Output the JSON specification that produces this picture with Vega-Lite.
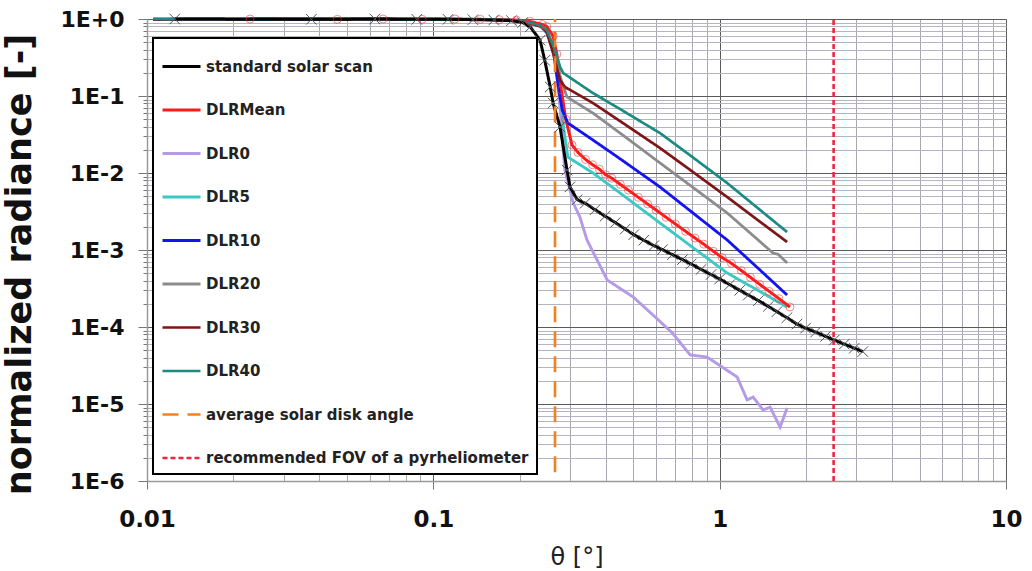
{
  "$schema": "https://vega.github.io/schema/vega-lite/v6.json",
  "width": 859,
  "height": 462,
  "autosize": {"type": "none"},
  "padding": {"left": 147, "top": 19, "right": 26, "bottom": 90},
  "background": "white",
  "config": {
    "view": {"stroke": null},
    "font": "DejaVu Sans",
    "legend": {
      "orient": "none",
      "legendX": 6,
      "legendY": 19,
      "direction": "vertical",
      "symbolType": "stroke",
      "symbolSize": 1444,
      "symbolStrokeWidth": 3,
      "labelFont": "DejaVu Sans",
      "labelFontWeight": "bold",
      "labelFontSize": 15,
      "labelColor": "#222222",
      "labelLimit": 400,
      "labelOffset": 4,
      "rowPadding": 14.5,
      "padding": 8,
      "strokeColor": "#000000",
      "strokeWidth": 2,
      "fillColor": "#ffffff"
    }
  },
  "data": {
    "values": [
      {"s": "DLR0", "x": 0.0105, "y": 0.99}, {"s": "DLR0", "x": 0.025, "y": 1.0}, {"s": "DLR0", "x": 0.05, "y": 0.99}, {"s": "DLR0", "x": 0.08, "y": 1.0}, {"s": "DLR0", "x": 0.12, "y": 0.99}, {"s": "DLR0", "x": 0.16, "y": 0.98}, {"s": "DLR0", "x": 0.19, "y": 0.96}, {"s": "DLR0", "x": 0.205, "y": 0.93}, {"s": "DLR0", "x": 0.218, "y": 0.88},
      {"s": "DLR0", "x": 0.238, "y": 0.8}, {"s": "DLR0", "x": 0.249, "y": 0.66}, {"s": "DLR0", "x": 0.262, "y": 0.42}, {"s": "DLR0", "x": 0.27, "y": 0.2}, {"s": "DLR0", "x": 0.278, "y": 0.06}, {"s": "DLR0", "x": 0.284, "y": 0.02}, {"s": "DLR0", "x": 0.288, "y": 0.0109}, {"s": "DLR0", "x": 0.308, "y": 0.00408}, {"s": "DLR0", "x": 0.325, "y": 0.00268}, {"s": "DLR0", "x": 0.344, "y": 0.00135}, {"s": "DLR0", "x": 0.405, "y": 0.000407}, {"s": "DLR0", "x": 0.499, "y": 0.000245}, {"s": "DLR0", "x": 0.595, "y": 0.000135}, {"s": "DLR0", "x": 0.683, "y": 0.000084}, {"s": "DLR0", "x": 0.789, "y": 0.0000433}, {"s": "DLR0", "x": 0.904, "y": 0.0000407}, {"s": "DLR0", "x": 1.151, "y": 0.0000224}, {"s": "DLR0", "x": 1.247, "y": 0.0000113}, {"s": "DLR0", "x": 1.309, "y": 0.0000123}, {"s": "DLR0", "x": 1.418, "y": 0.00000836}, {"s": "DLR0", "x": 1.5, "y": 0.0000091}, {"s": "DLR0", "x": 1.626, "y": 0.000005}, {"s": "DLR0", "x": 1.72, "y": 0.0000089},

      {"s": "DLR5", "x": 0.0105, "y": 1.0}, {"s": "DLR5", "x": 0.025, "y": 0.99}, {"s": "DLR5", "x": 0.05, "y": 1.0}, {"s": "DLR5", "x": 0.08, "y": 0.99}, {"s": "DLR5", "x": 0.12, "y": 1.0}, {"s": "DLR5", "x": 0.16, "y": 0.98}, {"s": "DLR5", "x": 0.19, "y": 0.96}, {"s": "DLR5", "x": 0.205, "y": 0.93}, {"s": "DLR5", "x": 0.218, "y": 0.89},
      {"s": "DLR5", "x": 0.238, "y": 0.8}, {"s": "DLR5", "x": 0.249, "y": 0.67}, {"s": "DLR5", "x": 0.262, "y": 0.45}, {"s": "DLR5", "x": 0.27, "y": 0.25}, {"s": "DLR5", "x": 0.278, "y": 0.1}, {"s": "DLR5", "x": 0.286, "y": 0.035}, {"s": "DLR5", "x": 0.295, "y": 0.0161}, {"s": "DLR5", "x": 0.32, "y": 0.0133}, {"s": "DLR5", "x": 0.361, "y": 0.01}, {"s": "DLR5", "x": 0.45, "y": 0.00546}, {"s": "DLR5", "x": 0.619, "y": 0.00224}, {"s": "DLR5", "x": 0.8, "y": 0.0011}, {"s": "DLR5", "x": 1.062, "y": 0.000503}, {"s": "DLR5", "x": 1.35, "y": 0.000304}, {"s": "DLR5", "x": 1.72, "y": 0.000182},

      {"s": "DLRMean", "x": 0.0229, "y": 1.0}, {"s": "DLRMean", "x": 0.0462, "y": 0.99}, {"s": "DLRMean", "x": 0.0667, "y": 1.0}, {"s": "DLRMean", "x": 0.0914, "y": 0.99}, {"s": "DLRMean", "x": 0.119, "y": 1.0}, {"s": "DLRMean", "x": 0.146, "y": 0.99}, {"s": "DLRMean", "x": 0.17, "y": 0.98}, {"s": "DLRMean", "x": 0.195, "y": 0.97}, {"s": "DLRMean", "x": 0.218, "y": 0.93}, {"s": "DLRMean", "x": 0.24, "y": 0.85}, {"s": "DLRMean", "x": 0.249, "y": 0.8}, {"s": "DLRMean", "x": 0.262, "y": 0.6}, {"s": "DLRMean", "x": 0.27, "y": 0.35}, {"s": "DLRMean", "x": 0.28, "y": 0.12}, {"s": "DLRMean", "x": 0.29, "y": 0.05}, {"s": "DLRMean", "x": 0.305, "y": 0.0231}, {"s": "DLRMean", "x": 0.32, "y": 0.0185}, {"s": "DLRMean", "x": 0.34, "y": 0.015}, {"s": "DLRMean", "x": 0.36, "y": 0.0128}, {"s": "DLRMean", "x": 0.38, "y": 0.0112}, {"s": "DLRMean", "x": 0.4, "y": 0.0095}, {"s": "DLRMean", "x": 0.42, "y": 0.00855}, {"s": "DLRMean", "x": 0.45, "y": 0.00711}, {"s": "DLRMean", "x": 0.48, "y": 0.00598}, {"s": "DLRMean", "x": 0.52, "y": 0.00483}, {"s": "DLRMean", "x": 0.56, "y": 0.00396}, {"s": "DLRMean", "x": 0.6, "y": 0.0033}, {"s": "DLRMean", "x": 0.65, "y": 0.00266}, {"s": "DLRMean", "x": 0.7, "y": 0.00218}, {"s": "DLRMean", "x": 0.76, "y": 0.00175}, {"s": "DLRMean", "x": 0.82, "y": 0.00143}, {"s": "DLRMean", "x": 0.88, "y": 0.00119}, {"s": "DLRMean", "x": 0.95, "y": 0.000964}, {"s": "DLRMean", "x": 1.02, "y": 0.000798}, {"s": "DLRMean", "x": 1.1, "y": 0.00067}, {"s": "DLRMean", "x": 1.19, "y": 0.000541}, {"s": "DLRMean", "x": 1.28, "y": 0.000442}, {"s": "DLRMean", "x": 1.38, "y": 0.000358}, {"s": "DLRMean", "x": 1.49, "y": 0.00029}, {"s": "DLRMean", "x": 1.61, "y": 0.000234}, {"s": "DLRMean", "x": 1.76, "y": 0.000182},

      {"s": "DLR10", "x": 0.0105, "y": 0.99}, {"s": "DLR10", "x": 0.025, "y": 1.0}, {"s": "DLR10", "x": 0.05, "y": 1.0}, {"s": "DLR10", "x": 0.08, "y": 0.99}, {"s": "DLR10", "x": 0.12, "y": 0.99}, {"s": "DLR10", "x": 0.16, "y": 0.98}, {"s": "DLR10", "x": 0.19, "y": 0.96}, {"s": "DLR10", "x": 0.205, "y": 0.93}, {"s": "DLR10", "x": 0.218, "y": 0.88},
      {"s": "DLR10", "x": 0.238, "y": 0.8}, {"s": "DLR10", "x": 0.249, "y": 0.67}, {"s": "DLR10", "x": 0.262, "y": 0.42}, {"s": "DLR10", "x": 0.273, "y": 0.131}, {"s": "DLR10", "x": 0.282, "y": 0.0658}, {"s": "DLR10", "x": 0.295, "y": 0.0446}, {"s": "DLR10", "x": 0.361, "y": 0.0268}, {"s": "DLR10", "x": 0.45, "y": 0.0152}, {"s": "DLR10", "x": 0.619, "y": 0.00658}, {"s": "DLR10", "x": 0.8, "y": 0.0031}, {"s": "DLR10", "x": 1.062, "y": 0.00135}, {"s": "DLR10", "x": 1.35, "y": 0.000597}, {"s": "DLR10", "x": 1.72, "y": 0.00026},

      {"s": "DLR20", "x": 0.0105, "y": 1.0}, {"s": "DLR20", "x": 0.025, "y": 0.99}, {"s": "DLR20", "x": 0.05, "y": 0.99}, {"s": "DLR20", "x": 0.08, "y": 1.0}, {"s": "DLR20", "x": 0.12, "y": 0.99}, {"s": "DLR20", "x": 0.16, "y": 0.98}, {"s": "DLR20", "x": 0.19, "y": 0.96}, {"s": "DLR20", "x": 0.205, "y": 0.93}, {"s": "DLR20", "x": 0.218, "y": 0.88},
      {"s": "DLR20", "x": 0.238, "y": 0.8}, {"s": "DLR20", "x": 0.249, "y": 0.67}, {"s": "DLR20", "x": 0.262, "y": 0.42}, {"s": "DLR20", "x": 0.275, "y": 0.2}, {"s": "DLR20", "x": 0.285, "y": 0.13}, {"s": "DLR20", "x": 0.293, "y": 0.097}, {"s": "DLR20", "x": 0.361, "y": 0.06}, {"s": "DLR20", "x": 0.45, "y": 0.0328}, {"s": "DLR20", "x": 0.619, "y": 0.0135}, {"s": "DLR20", "x": 0.8, "y": 0.00665}, {"s": "DLR20", "x": 1.062, "y": 0.00303}, {"s": "DLR20", "x": 1.35, "y": 0.00139}, {"s": "DLR20", "x": 1.535, "y": 0.000914}, {"s": "DLR20", "x": 1.6, "y": 0.00088}, {"s": "DLR20", "x": 1.72, "y": 0.00068},

      {"s": "DLR30", "x": 0.0105, "y": 0.99}, {"s": "DLR30", "x": 0.025, "y": 1.0}, {"s": "DLR30", "x": 0.05, "y": 0.99}, {"s": "DLR30", "x": 0.08, "y": 1.0}, {"s": "DLR30", "x": 0.12, "y": 0.99}, {"s": "DLR30", "x": 0.16, "y": 0.98}, {"s": "DLR30", "x": 0.19, "y": 0.96}, {"s": "DLR30", "x": 0.205, "y": 0.92}, {"s": "DLR30", "x": 0.218, "y": 0.88},
      {"s": "DLR30", "x": 0.238, "y": 0.8}, {"s": "DLR30", "x": 0.249, "y": 0.68}, {"s": "DLR30", "x": 0.262, "y": 0.36}, {"s": "DLR30", "x": 0.277, "y": 0.161}, {"s": "DLR30", "x": 0.288, "y": 0.131}, {"s": "DLR30", "x": 0.361, "y": 0.081}, {"s": "DLR30", "x": 0.45, "y": 0.0469}, {"s": "DLR30", "x": 0.619, "y": 0.0211}, {"s": "DLR30", "x": 0.8, "y": 0.01055}, {"s": "DLR30", "x": 1.062, "y": 0.00488}, {"s": "DLR30", "x": 1.35, "y": 0.00249}, {"s": "DLR30", "x": 1.72, "y": 0.00127},

      {"s": "DLR40", "x": 0.0105, "y": 1.0}, {"s": "DLR40", "x": 0.025, "y": 0.99}, {"s": "DLR40", "x": 0.05, "y": 1.0}, {"s": "DLR40", "x": 0.08, "y": 0.99}, {"s": "DLR40", "x": 0.12, "y": 0.99}, {"s": "DLR40", "x": 0.16, "y": 0.98}, {"s": "DLR40", "x": 0.19, "y": 0.96}, {"s": "DLR40", "x": 0.205, "y": 0.93}, {"s": "DLR40", "x": 0.218, "y": 0.89},
      {"s": "DLR40", "x": 0.238, "y": 0.82}, {"s": "DLR40", "x": 0.249, "y": 0.72}, {"s": "DLR40", "x": 0.266, "y": 0.4}, {"s": "DLR40", "x": 0.277, "y": 0.24}, {"s": "DLR40", "x": 0.284, "y": 0.199}, {"s": "DLR40", "x": 0.361, "y": 0.109}, {"s": "DLR40", "x": 0.45, "y": 0.0673}, {"s": "DLR40", "x": 0.619, "y": 0.033}, {"s": "DLR40", "x": 0.8, "y": 0.0163}, {"s": "DLR40", "x": 1.062, "y": 0.00741}, {"s": "DLR40", "x": 1.35, "y": 0.00357}, {"s": "DLR40", "x": 1.72, "y": 0.00171},

      {"s": "standard solar scan", "x": 0.0125, "y": 1.0}, {"s": "standard solar scan", "x": 0.0375, "y": 0.99}, {"s": "standard solar scan", "x": 0.0625, "y": 1.0}, {"s": "standard solar scan", "x": 0.0875, "y": 0.99}, {"s": "standard solar scan", "x": 0.1125, "y": 0.99}, {"s": "standard solar scan", "x": 0.1375, "y": 0.98}, {"s": "standard solar scan", "x": 0.1625, "y": 0.97}, {"s": "standard solar scan", "x": 0.1875, "y": 0.95}, {"s": "standard solar scan", "x": 0.205, "y": 0.9}, {"s": "standard solar scan", "x": 0.218, "y": 0.79}, {"s": "standard solar scan", "x": 0.236, "y": 0.53}, {"s": "standard solar scan", "x": 0.245, "y": 0.29}, {"s": "standard solar scan", "x": 0.256, "y": 0.131}, {"s": "standard solar scan", "x": 0.262, "y": 0.081}, {"s": "standard solar scan", "x": 0.277, "y": 0.0396}, {"s": "standard solar scan", "x": 0.293, "y": 0.0109}, {"s": "standard solar scan", "x": 0.3, "y": 0.0066}, {"s": "standard solar scan", "x": 0.318, "y": 0.0045}, {"s": "standard solar scan", "x": 0.339, "y": 0.00405}, {"s": "standard solar scan", "x": 0.367, "y": 0.00333}, {"s": "standard solar scan", "x": 0.398, "y": 0.00275}, {"s": "standard solar scan", "x": 0.432, "y": 0.00227}, {"s": "standard solar scan", "x": 0.468, "y": 0.00187}, {"s": "standard solar scan", "x": 0.501, "y": 0.00158}, {"s": "standard solar scan", "x": 0.543, "y": 0.00134}, {"s": "standard solar scan", "x": 0.589, "y": 0.00114}, {"s": "standard solar scan", "x": 0.631, "y": 0.00101}, {"s": "standard solar scan", "x": 0.684, "y": 0.00087}, {"s": "standard solar scan", "x": 0.741, "y": 0.00075}, {"s": "standard solar scan", "x": 0.794, "y": 0.00066}, {"s": "standard solar scan", "x": 0.861, "y": 0.00056}, {"s": "standard solar scan", "x": 0.933, "y": 0.00048}, {"s": "standard solar scan", "x": 1.0, "y": 0.00042}, {"s": "standard solar scan", "x": 1.084, "y": 0.000355}, {"s": "standard solar scan", "x": 1.175, "y": 0.0003}, {"s": "standard solar scan", "x": 1.259, "y": 0.00026}, {"s": "standard solar scan", "x": 1.365, "y": 0.00022}, {"s": "standard solar scan", "x": 1.479, "y": 0.000185}, {"s": "standard solar scan", "x": 1.585, "y": 0.000158}, {"s": "standard solar scan", "x": 1.718, "y": 0.000132}, {"s": "standard solar scan", "x": 1.862, "y": 0.000109}, {"s": "standard solar scan", "x": 1.995, "y": 0.0000965}, {"s": "standard solar scan", "x": 2.163, "y": 0.0000859}, {"s": "standard solar scan", "x": 2.344, "y": 0.0000755}, {"s": "standard solar scan", "x": 2.512, "y": 0.0000676}, {"s": "standard solar scan", "x": 2.723, "y": 0.0000599}, {"s": "standard solar scan", "x": 2.951, "y": 0.0000531}, {"s": "standard solar scan", "x": 3.162, "y": 0.0000479},

      {"s": "average solar disk angle", "x": 0.266, "y": 0.0000013},
      {"s": "average solar disk angle", "x": 0.266, "y": 1.0},
      {"s": "recommended FOV of a pyrheliometer", "x": 2.5, "y": 0.000001},
      {"s": "recommended FOV of a pyrheliometer", "x": 2.5, "y": 1.0}
    ]
  },
  "encoding": {
    "x": {
      "field": "x",
      "type": "quantitative",
      "scale": {"type": "log", "domain": [0.01, 10]},
      "axis": {
        "title": "θ [°]",
        "titleFont": "DejaVu Sans",
        "titleFontSize": 24,
        "titleFontWeight": "normal",
        "titleColor": "#222222",
        "titlePadding": 14,
        "values": [0.01, 0.02, 0.03, 0.04, 0.05, 0.06, 0.07, 0.08, 0.09, 0.1, 0.2, 0.3, 0.4, 0.5, 0.6, 0.7, 0.8, 0.9, 1, 2, 3, 4, 5, 6, 7, 8, 9, 10],
        "labelExpr": "datum.value == 0.01 ? '0.01' : datum.value == 0.1 ? '0.1' : datum.value == 1 ? '1' : datum.value == 10 ? '10' : ''",
        "labelFont": "DejaVu Sans",
        "labelFontWeight": "bold",
        "labelFontSize": 23,
        "labelColor": "#111111",
        "labelPadding": 19,
        "labelFlush": false,
        "labelOverlap": false,
        "domainColor": "#9a9a9a",
        "domainWidth": 1.5,
        "tickColor": "#777777",
        "tickSize": {"condition": {"test": "datum.value == 0.01 || datum.value == 0.1 || datum.value == 1 || datum.value == 10", "value": 8}, "value": 0},
        "grid": true,
        "gridColor": {"condition": {"test": "datum.value == 0.01 || datum.value == 0.1 || datum.value == 1 || datum.value == 10", "value": "#5a5a5a"}, "value": "#a8a8b0"},
        "gridWidth": 1
      }
    },
    "y": {
      "field": "y",
      "type": "quantitative",
      "scale": {"type": "log", "domain": [0.000001, 1]},
      "axis": {
        "title": "normalized radiance [-]",
        "titleFont": "DejaVu Sans",
        "titleFontSize": 35,
        "titleFontWeight": "bold",
        "titleColor": "#111111",
        "titleX": -110,
        "titleY": 245,
        "values": [0.000001, 0.000002, 0.000003, 0.000004, 0.000005, 0.000006, 0.000007, 0.000008, 0.000009, 0.00001, 0.00002, 0.00003, 0.00004, 0.00005, 0.00006, 0.00007, 0.00008, 0.00009, 0.0001, 0.0002, 0.0003, 0.0004, 0.0005, 0.0006, 0.0007, 0.0008, 0.0009, 0.001, 0.002, 0.003, 0.004, 0.005, 0.006, 0.007, 0.008, 0.009, 0.01, 0.02, 0.03, 0.04, 0.05, 0.06, 0.07, 0.08, 0.09, 0.1, 0.2, 0.3, 0.4, 0.5, 0.6, 0.7, 0.8, 0.9, 1],
        "labelExpr": "datum.value == 1 ? '1E+0' : datum.value == 0.1 ? '1E-1' : datum.value == 0.01 ? '1E-2' : datum.value == 0.001 ? '1E-3' : datum.value == 0.0001 ? '1E-4' : datum.value == 0.00001 ? '1E-5' : datum.value == 0.000001 ? '1E-6' : ''",
        "labelFont": "DejaVu Sans",
        "labelFontWeight": "bold",
        "labelFontSize": 22,
        "labelColor": "#111111",
        "labelPadding": 14,
        "labelFlush": false,
        "labelOverlap": false,
        "domainColor": "#9a9a9a",
        "domainWidth": 1.5,
        "tickColor": "#777777",
        "tickSize": {"condition": {"test": "datum.value == 1 || datum.value == 0.1 || datum.value == 0.01 || datum.value == 0.001 || datum.value == 0.0001 || datum.value == 0.00001 || datum.value == 0.000001", "value": 9}, "value": 4},
        "grid": true,
        "gridColor": {"condition": {"test": "datum.value == 1 || datum.value == 0.1 || datum.value == 0.01 || datum.value == 0.001 || datum.value == 0.0001 || datum.value == 0.00001 || datum.value == 0.000001", "value": "#5a5a5a"}, "value": "#b4b4c4"},
        "gridWidth": 1
      }
    }
  },
  "layer": [
    {
      "mark": {"type": "line", "interpolate": "linear", "strokeCap": "butt"},
      "encoding": {
        "color": {
          "field": "s",
          "type": "nominal",
          "scale": {
            "domain": ["standard solar scan", "DLRMean", "DLR0", "DLR5", "DLR10", "DLR20", "DLR30", "DLR40", "average solar disk angle", "recommended FOV of a pyrheliometer"],
            "range": ["#000000", "#ff1a1a", "#b59ae8", "#3cc9c3", "#1414f0", "#8c8c8c", "#7f1515", "#1b8a80", "#f5801e", "#e8283e"]
          },
          "legend": {"title": null}
        },
        "strokeDash": {
          "field": "s",
          "type": "nominal",
          "scale": {
            "domain": ["standard solar scan", "DLRMean", "DLR0", "DLR5", "DLR10", "DLR20", "DLR30", "DLR40", "average solar disk angle", "recommended FOV of a pyrheliometer"],
            "range": [[1, 0], [1, 0], [1, 0], [1, 0], [1, 0], [1, 0], [1, 0], [1, 0], [16, 9], [5, 3]]
          },
          "legend": {"title": null}
        },
        "strokeWidth": {
          "field": "s",
          "type": "nominal",
          "scale": {
            "domain": ["standard solar scan", "DLRMean", "DLR0", "DLR5", "DLR10", "DLR20", "DLR30", "DLR40", "average solar disk angle", "recommended FOV of a pyrheliometer"],
            "range": [3, 2.6, 1.7, 2.6, 2.8, 2.6, 2.8, 2.8, 3, 2.5]
          },
          "legend": null
        }
      }
    },
    {
      "transform": [{"filter": "datum.s == 'standard solar scan'"}],
      "mark": {"type": "point", "shape": "M-1,-1L1,1M-1,1L1,-1", "filled": false, "stroke": "#555555", "strokeWidth": 1, "size": 110, "opacity": 1},
      "encoding": {}
    },
    {
      "transform": [{"filter": "datum.s == 'DLRMean'"}],
      "mark": {"type": "point", "shape": "circle", "filled": false, "stroke": "#f03a3a", "strokeWidth": 1, "size": 64, "opacity": 0.6},
      "encoding": {}
    }
  ]
}
